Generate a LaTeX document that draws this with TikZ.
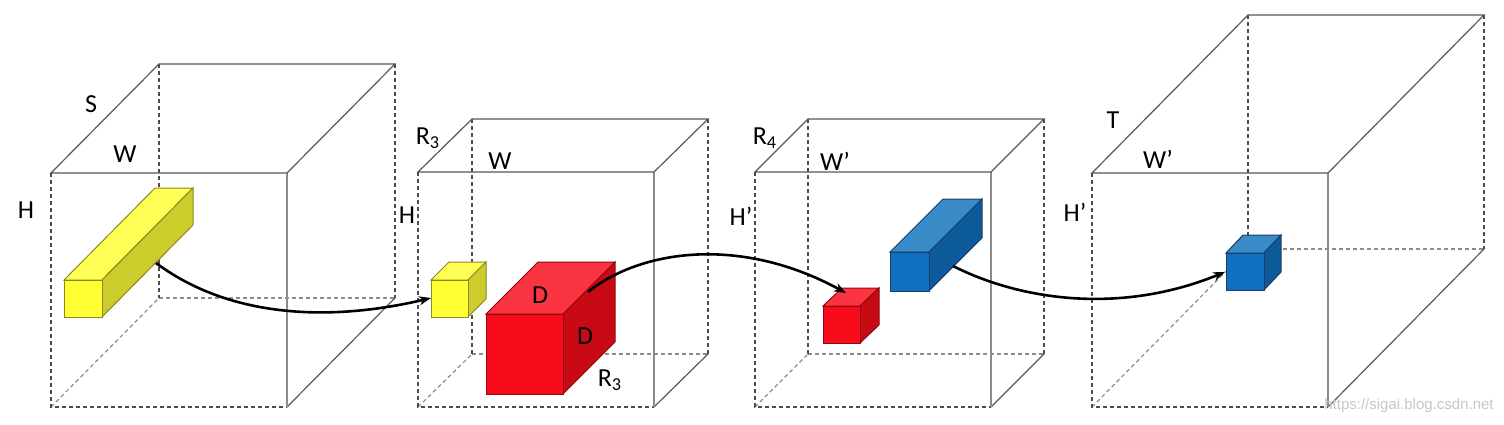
\documentclass[tikz,border=0pt]{standalone}
\usepackage{fontspec}
\setmainfont{Carlito}
\newfontfamily\wmfont{Liberation Sans}
\usetikzlibrary{arrows.meta}
\definecolor{yfront}{HTML}{FFFF33}
\definecolor{ytop}{HTML}{FFFF55}
\definecolor{yside}{HTML}{CCCC2C}
\definecolor{yline}{HTML}{8A8A20}
\definecolor{rfront}{HTML}{F80C1C}
\definecolor{rtop}{HTML}{FA3440}
\definecolor{rside}{HTML}{C80A14}
\definecolor{rline}{HTML}{900810}
\definecolor{bfront}{HTML}{1070BF}
\definecolor{btop}{HTML}{3A8AC8}
\definecolor{bside}{HTML}{0D5A9A}
\definecolor{bline}{HTML}{1A3F66}
\tikzset{
  solidedge/.style={draw=black!65, line width=0.6pt},
  lightedge/.style={draw=black!45, line width=0.6pt},
  darkdash/.style={draw=black!70, line width=0.6pt, dash pattern=on 2pt off 1.5pt},
  hiddash/.style={draw=black!45, line width=0.6pt, dash pattern=on 2pt off 1.5pt},
  lbl/.style={font=\fontsize{13}{15}\selectfont, text=black, inner sep=0pt},
  conn/.style={draw=black, line width=1.3pt, -{Stealth[length=6pt,width=4.5pt]}},
}
% x y w h dx dy
\newcommand\wirecube[6]{%
  \begin{scope}[shift={(#1,#2)}]
    \draw[hiddash] (0,#4) -- (#5,#6+#4);
    \draw[hiddash] (#5,#6+#4) -- (#5+#3,#6+#4);
    \draw[darkdash] (#5,#6) -- (#5,#6+#4);
    \draw[darkdash] (0,0) -- (0,#4) -- (#3,#4);
    \draw[darkdash] (#5+#3,#6) -- (#5+#3,#6+#4);
    \draw[solidedge] (#3,#4) -- (#3+#5,#4+#6);
    \draw[lightedge] (#3,0) -- (#3,#4);
    \draw[solidedge] (0,0) -- (#3,0) -- (#3+#5,#6) -- (#5,#6) -- cycle;
  \end{scope}}
% x y w h dx dy colourprefix
\newcommand\solidcuboid[7]{%
  \begin{scope}[shift={(#1,#2)}, line width=0.5pt, draw=#7line]
    \filldraw[fill=#7top] (0,0) -- (#5,#6) -- (#5+#3,#6) -- (#3,0) -- cycle;
    \filldraw[fill=#7side] (#3,0) -- (#3+#5,#6) -- (#3+#5,#6+#4) -- (#3,#4) -- cycle;
    \filldraw[fill=#7front] (0,0) rectangle (#3,#4);
  \end{scope}}
\begin{document}
\begin{tikzpicture}[x=0.5pt, y=-0.5pt]
\useasboundingbox (0,0) rectangle (1504,424);
\fill[white] (0,0) rectangle (1504,424);

% big wireframe cubes
\wirecube{51}{173}{236}{234}{108}{-109}
\wirecube{418}{172}{236}{235}{54}{-53}
\wirecube{755}{172}{236}{235}{53}{-53}
\wirecube{1092}{173}{236}{234}{156}{-158}

% solid boxes
\solidcuboid{64}{280}{38}{37}{91}{-92}{y}
\solidcuboid{431}{280}{37}{37}{18}{-18}{y}
\solidcuboid{486}{314}{77}{80}{52}{-52}{r}
\solidcuboid{823}{306}{37}{37}{19}{-18}{r}
\solidcuboid{890}{252}{39}{39}{53}{-53}{b}
\solidcuboid{1226}{253}{38}{37}{17}{-18}{b}

% connector end points
\coordinate (a1s) at (156,263);
\coordinate (a1e) at (431,298);
\coordinate (a2s) at (588,292);
\coordinate (a2e) at (846,293);
\coordinate (a3s) at (953,266);
\coordinate (a3e) at (1225,272);

\draw[conn] (a1s) .. controls (230,318) and (330,322) .. (a1e);
\draw[conn] (a2s) .. controls (640,250) and (740,235) .. (a2e);
\draw[conn] (a3s) .. controls (1020,300) and (1120,315) .. (a3e);

% labels
\node[lbl] (s) at (91,104) {S};
\node[lbl] (w1) at (125,154) {W};
\node[lbl] (h1) at (26,210) {H};
\node[lbl] (r3a) at (428,138) {R\textsubscript{3}};
\node[lbl] (w2) at (500,161) {W};
\node[lbl] (h2) at (407,215) {H};
\node[lbl] (d1) at (540,295) {D};
\node[lbl] (d2) at (585,336) {D};
\node[lbl] (r3b) at (610,380) {R\textsubscript{3}};
\node[lbl] (r4) at (765,138) {R\textsubscript{4}};
\node[lbl] (w3) at (835,161) {W’};
\node[lbl] (h3) at (741,216) {H’};
\node[lbl] (t) at (1113,120) {T};
\node[lbl] (w4) at (1158,159) {W’};
\node[lbl] (h4) at (1075,212) {H’};
\node[anchor=east, inner sep=0pt, text=black!22, font=\wmfont\fontsize{7.5}{9}\selectfont] (wm) at (1494,406) {https://sigai.blog.csdn.net};
\end{tikzpicture}
\end{document}
